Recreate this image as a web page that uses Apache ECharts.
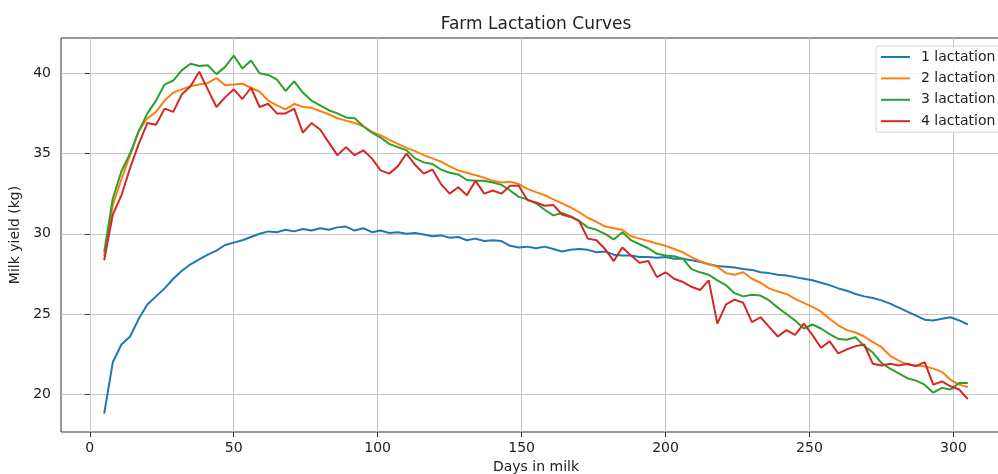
<!DOCTYPE html>
<html>
<head>
<meta charset="utf-8">
<script src="https://cdn.jsdelivr.net/npm/echarts@6.0.0/dist/echarts.min.js"></script>
<style>
  html, body { margin: 0; padding: 0; background: #fff; }
  #chart { width: 998px; height: 474px; }
</style>
</head>
<body>
<div id="chart"></div>
<script>
// days in milk (x), sampled every 3 days
const days = [5, 8, 11, 14, 17, 20, 23, 26, 29, 32,
  35, 38, 41, 44, 47, 50, 53, 56, 59, 62,
  65, 68, 71, 74, 77, 80, 83, 86, 89, 92,
  95, 98, 101, 104, 107, 110, 113, 116, 119, 122,
  125, 128, 131, 134, 137, 140, 143, 146, 149, 152,
  155, 158, 161, 164, 167, 170, 173, 176, 179, 182,
  185, 188, 191, 194, 197, 200, 203, 206, 209, 212,
  215, 218, 221, 224, 227, 230, 233, 236, 239, 242,
  245, 248, 251, 254, 257, 260, 263, 266, 269, 272,
  275, 278, 281, 284, 287, 290, 293, 296, 299, 302, 305];

const lact1 = [18.8, 22.0, 23.1, 23.6, 24.7, 25.6, 26.1, 26.6, 27.2, 27.7,
  28.1, 28.4, 28.7, 28.95, 29.3, 29.45, 29.6, 29.8, 30.0, 30.15,
  30.1, 30.25, 30.15, 30.3, 30.2, 30.35, 30.25, 30.4, 30.45, 30.2,
  30.35, 30.1, 30.2, 30.05, 30.1, 30.0, 30.05, 29.95, 29.85, 29.9,
  29.75, 29.8, 29.6, 29.7, 29.55, 29.6, 29.55, 29.25, 29.15, 29.2,
  29.1, 29.2, 29.05, 28.9, 29.0, 29.05, 29.0, 28.85, 28.9, 28.7,
  28.65, 28.65, 28.55, 28.55, 28.5, 28.55, 28.45, 28.45, 28.35, 28.25,
  28.1, 28.0, 27.95, 27.9, 27.8, 27.75, 27.6, 27.55, 27.45, 27.4,
  27.3, 27.2, 27.1, 26.95, 26.8, 26.6, 26.45, 26.25, 26.1, 26.0,
  25.85, 25.65, 25.4, 25.15, 24.9, 24.65, 24.6, 24.7, 24.8, 24.6, 24.35];

const lact2 = [28.6, 31.8, 33.4, 34.9, 36.4, 37.2, 37.6, 38.3, 38.8, 39.0,
  39.2, 39.3, 39.4, 39.7, 39.25, 39.3, 39.35, 39.1, 38.85, 38.3,
  38.0, 37.75, 38.1, 37.9, 37.85, 37.65, 37.45, 37.2, 37.05, 36.9,
  36.7, 36.35, 36.15, 35.85, 35.6, 35.35, 35.15, 34.9, 34.7, 34.5,
  34.2, 33.95, 33.8, 33.65, 33.5, 33.3, 33.2, 33.25, 33.1, 32.8,
  32.6, 32.4, 32.15, 31.9, 31.65, 31.35, 31.0, 30.75, 30.45, 30.35,
  30.25, 29.85, 29.7, 29.55, 29.4, 29.25, 29.05, 28.85, 28.55, 28.3,
  28.1, 27.95, 27.55, 27.45, 27.6, 27.2, 26.95, 26.6, 26.4, 26.25,
  25.95, 25.7, 25.45, 25.15, 24.7, 24.3, 24.0, 23.85, 23.6, 23.25,
  22.95, 22.4, 22.1, 21.85, 21.8, 21.75, 21.6, 21.4, 20.9, 20.6, 20.45];

const lact3 = [28.85, 32.2, 33.9, 35.0, 36.4, 37.5, 38.3, 39.3, 39.55, 40.2,
  40.6, 40.45, 40.5, 39.95, 40.4, 41.1, 40.3, 40.8, 40.0, 39.9,
  39.6, 38.9, 39.5, 38.8, 38.3, 38.0, 37.7, 37.5, 37.25, 37.2,
  36.7, 36.3, 36.0, 35.6, 35.4, 35.2, 34.7, 34.45, 34.35, 34.0,
  33.8, 33.7, 33.35, 33.3, 33.3, 33.2, 33.05, 32.7, 32.3, 32.15,
  31.9, 31.5, 31.15, 31.3, 31.1, 30.8, 30.4, 30.25, 30.0, 29.65,
  30.1, 29.6, 29.35, 29.1, 28.75, 28.65, 28.6, 28.45, 27.8, 27.6,
  27.45, 27.1, 26.8, 26.3, 26.1, 26.2, 26.15, 25.85, 25.4, 25.0,
  24.6, 24.1, 24.35, 24.1, 23.75, 23.45, 23.4, 23.55, 23.0, 22.6,
  21.95, 21.6, 21.3, 21.0, 20.85, 20.6, 20.1, 20.4, 20.3, 20.7, 20.7];

const lact4 = [28.35, 31.2, 32.4, 34.1, 35.6, 36.9, 36.8, 37.8, 37.6, 38.7,
  39.2, 40.1, 39.0, 37.9, 38.5, 39.0, 38.4, 39.1, 37.9, 38.1,
  37.5, 37.5, 37.8, 36.3, 36.9, 36.5, 35.7, 34.9, 35.4, 34.9,
  35.2, 34.7, 33.95, 33.75, 34.2, 35.0, 34.3, 33.75, 34.0, 33.1,
  32.5, 32.9, 32.4, 33.3, 32.5, 32.7, 32.5, 33.0, 33.0, 32.1,
  31.95, 31.75, 31.8, 31.2, 31.05, 30.8, 29.7, 29.6, 29.05, 28.3,
  29.15, 28.65, 28.2, 28.3, 27.3, 27.6, 27.2, 27.0, 26.7, 26.5,
  27.1, 24.4, 25.6, 25.9, 25.7, 24.5, 24.8, 24.2, 23.6, 24.0,
  23.7, 24.4, 23.7, 22.9, 23.3, 22.55, 22.8, 23.0, 23.1, 21.9,
  21.8, 21.9, 21.8, 21.9, 21.75, 22.0, 20.6, 20.8, 20.5, 20.3, 19.7];

const seriesNames = ['1 lactation', '2 lactation', '3 lactation', '4 lactation'];
const seriesColors = ['#1f77b4', '#ff7f0e', '#2ca02c', '#d62728'];
const xTicks = [0, 50, 100, 150, 200, 250, 300];
const yTicks = [20, 25, 30, 35, 40];

const font = 'DejaVu Sans';
const allSeries = [lact1, lact2, lact3, lact4];

let chart = echarts.init(document.getElementById('chart'), null, {renderer: 'canvas'});

let option = {
    backgroundColor: '#fff',
    animation: false,
    title: {
        text: 'Farm Lactation Curves',
        left: 536,
        textAlign: 'center',
        top: 16,
        padding: 0,
        textStyle: {fontFamily: font, fontSize: 17, fontWeight: 'normal', color: '#222'}
    },
    legend: {
        data: seriesNames,
        orient: 'vertical',
        left: 876,
        top: 46,
        padding: [4, 8, 4, 5],
        icon: 'rect',
        itemGap: 7.4,
        itemWidth: 29,
        itemHeight: 2,
        backgroundColor: 'rgba(255,255,255,0.8)',
        borderColor: '#d4d4d4',
        borderWidth: 1,
        borderRadius: 3,
        textStyle: {fontFamily: font, fontSize: 14, lineHeight: 14, color: '#222', padding: [0, 0, 0, 6]}
    },
    grid: {
        left: 61,
        top: 38,
        width: 950,
        height: 394,
        outerBoundsMode: 'none',
        show: true,
        borderColor: '#333',
        borderWidth: 1
    },
    xAxis: {
        type: 'value',
        min: -10,
        max: 320,
        name: 'Days in milk',
        nameLocation: 'middle',
        nameGap: 28,
        nameTextStyle: {fontFamily: font, fontSize: 14, color: '#222'},
        axisLine: {show: false},
        axisTick: {show: true, length: 5, customValues: xTicks, lineStyle: {color: '#333'}},
        axisLabel: {customValues: xTicks, margin: 9, fontFamily: font, fontSize: 14, color: '#222'},
        splitLine: {show: true, lineStyle: {color: '#c6c6c6', width: 1}}
    },
    yAxis: {
        type: 'value',
        min: 17.65,
        max: 42.2,
        name: 'Milk yield (kg)',
        nameLocation: 'middle',
        nameGap: 31,
        nameTextStyle: {fontFamily: font, fontSize: 14, color: '#222'},
        axisLine: {show: false},
        axisTick: {show: true, length: 5, customValues: yTicks, lineStyle: {color: '#333'}},
        axisLabel: {customValues: yTicks, margin: 10, fontFamily: font, fontSize: 14, color: '#222'},
        splitLine: {show: true, lineStyle: {color: '#c6c6c6', width: 1}}
    },
    series: allSeries.map(function (vals, k) {
        return {
            name: seriesNames[k],
            type: 'line',
            symbol: 'none',
            color: seriesColors[k],
            lineStyle: {width: 2},
            data: days.map(function (d, i) { return [d, vals[i]]; })
        };
    })
};

chart.setOption(option);
</script>
</body>
</html>
